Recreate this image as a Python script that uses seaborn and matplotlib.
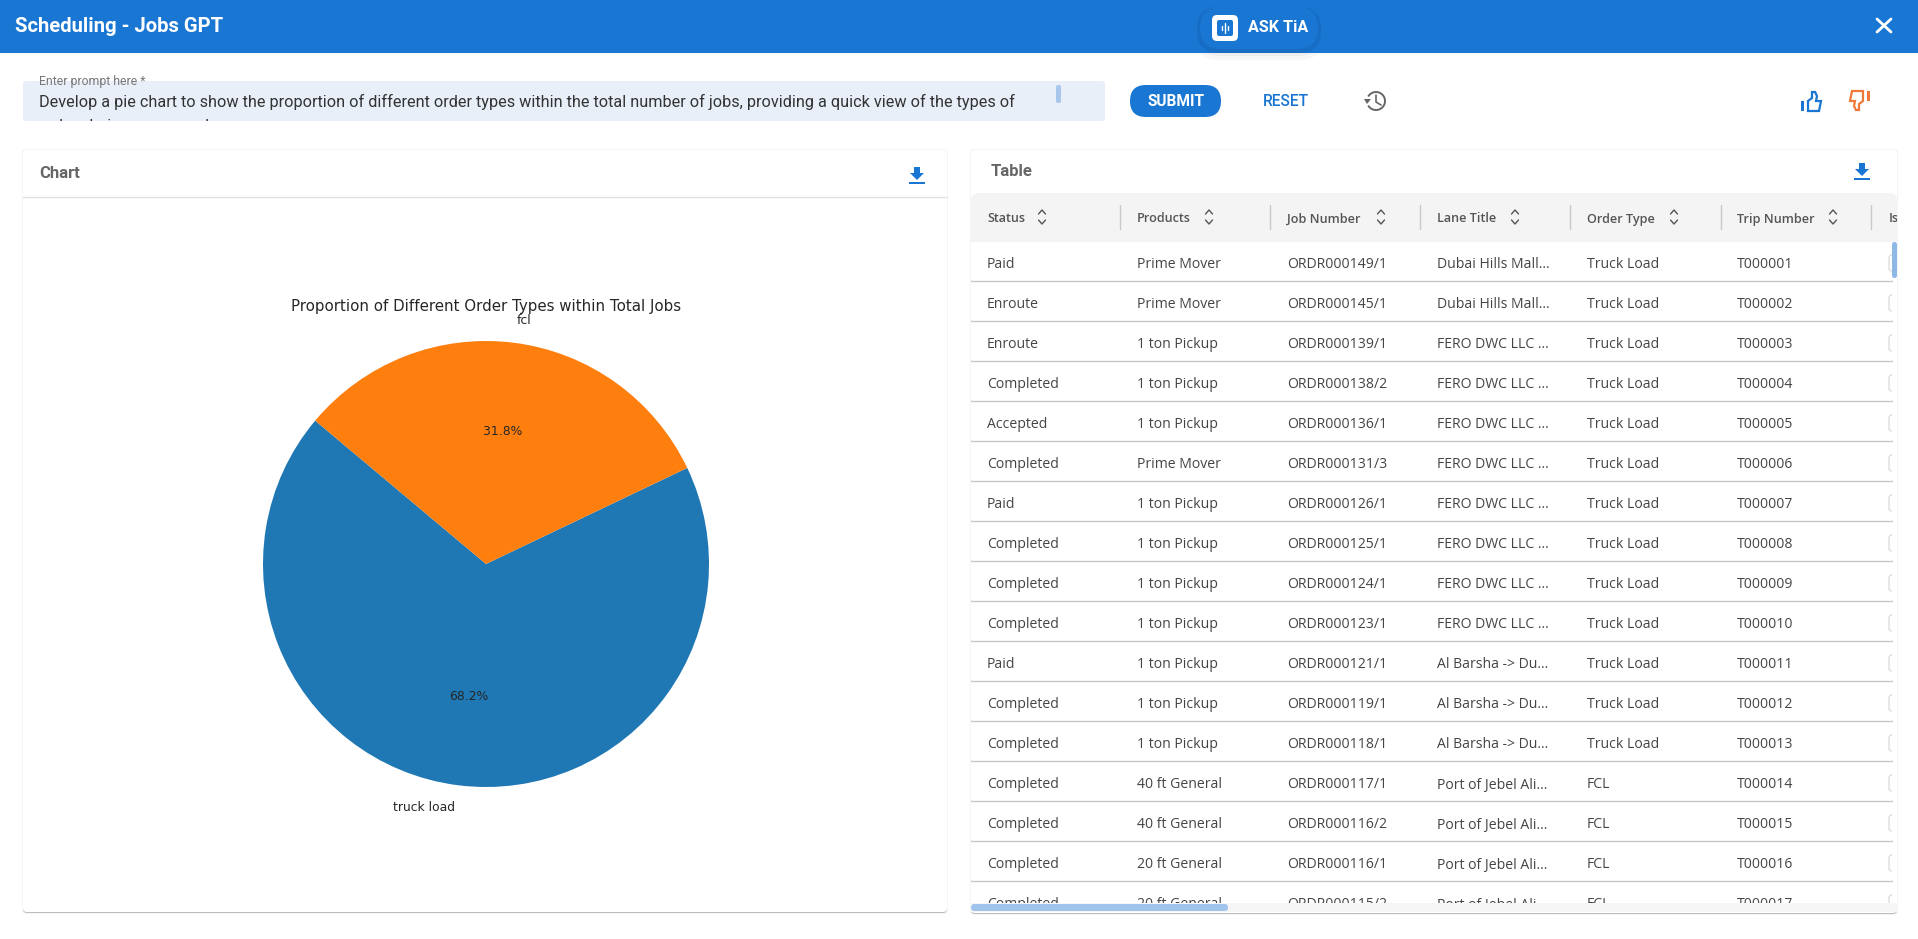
"""Scheduling - Jobs GPT screen: order type pie next to the jobs table."""
import matplotlib
matplotlib.use("Agg")
import matplotlib.pyplot as plt
import seaborn as sns
from matplotlib.patches import Arc, FancyBboxPatch, Polygon, Rectangle

# pie
order_types = ["truck load", "fcl"]
order_shares = [68.2, 31.8]

# table
columns = ["Status", "Products", "Job Number", "Lane Title", "Order Type", "Trip Number", "Is"]
status = ["Paid", "Enroute", "Enroute", "Completed", "Accepted", "Completed", "Paid", "Completed",
          "Completed", "Completed", "Paid", "Completed", "Completed", "Completed", "Completed",
          "Completed", "Completed"]
products = ["Prime Mover", "Prime Mover", "1 ton Pickup", "1 ton Pickup", "1 ton Pickup", "Prime Mover",
            "1 ton Pickup", "1 ton Pickup", "1 ton Pickup", "1 ton Pickup", "1 ton Pickup", "1 ton Pickup",
            "1 ton Pickup", "40 ft General", "40 ft General", "20 ft General", "20 ft General"]
job_numbers = ["ORDR000149/1", "ORDR000145/1", "ORDR000139/1", "ORDR000138/2", "ORDR000136/1",
               "ORDR000131/3", "ORDR000126/1", "ORDR000125/1", "ORDR000124/1", "ORDR000123/1",
               "ORDR000121/1", "ORDR000119/1", "ORDR000118/1", "ORDR000117/1", "ORDR000116/2",
               "ORDR000116/1", "ORDR000115/2"]
lanes = ["Dubai Hills Mall..."] * 2 + ["FERO DWC LLC ..."] * 8 + ["Al Barsha -> Du..."] * 3 + \
        ["Port of Jebel Ali..."] * 4
table_order_types = ["Truck Load"] * 13 + ["FCL"] * 4
trips = ["T000001", "T000002", "T000003", "T000004", "T000005", "T000006", "T000007", "T000008",
         "T000009", "T000010", "T000011", "T000012", "T000013", "T000014", "T000015", "T000016",
         "T000017"]

PROMPT = ("Develop a pie chart to show the proportion of different order types within the total "
          "number of jobs, providing a quick view of the types of")
PROMPT2 = "orders being processed."

BLUE = "#1976D2"
ORANGE = "#F0793A"
W, H = 1918, 939

sns.set_theme(style="white")
plt.rcParams["font.family"] = ["DejaVu Sans"]


def rbox(ax, x0, y0, x1, y1, r, **kw):
    p = FancyBboxPatch((x0 + r, y0 + r), x1 - x0 - 2 * r, y1 - y0 - 2 * r,
                       boxstyle=f"round,pad={r},rounding_size={r}", lw=kw.pop("lw", 0), **kw)
    ax.add_patch(p)
    return p


def card(ax, x0, y0, x1, y1):
    rbox(ax, x0 - 1, y0 - 1, x1 + 1, y1 + 2, 4, fc="#F5F5F5", zorder=1)
    rbox(ax, x0, y0 + 2, x1, y1 + 1, 4, fc="#BDBDBD", zorder=1.1)
    rbox(ax, x0, y0, x1, y1, 4, fc="white", zorder=1.2)


def download(ax, x, y):
    ax.add_patch(Rectangle((x - 3, y), 6, 7, fc=BLUE, lw=0, zorder=5))
    ax.add_patch(Polygon([(x - 7, y + 6), (x + 7, y + 6), (x, y + 13)], fc=BLUE, lw=0, zorder=5))
    ax.add_patch(Rectangle((x - 8, y + 15), 16, 2, fc=BLUE, lw=0, zorder=5))


def thumb(ax, x, y, color, flip=1):
    # y offsets flip for the thumbs-down
    pts = [(-3, 9), (-3, -1), (1, -4), (1, -10), (4, -10), (6, -6), (5, -1), (10, -1), (8, 9)]
    ax.add_patch(Polygon([(x + a * flip, y + b * flip) for a, b in pts], fc="none", ec=color, lw=1.6, zorder=5))
    ax.add_patch(Rectangle((x - 10 * flip, y + (-1 if flip > 0 else -9)), 3 * flip, 10, fc=color, lw=0, zorder=5))


def chevrons(ax, x, y):
    for d in (-1, 1):
        ax.plot([x - 3.5, x, x + 3.5], [y + d * 3, y + d * 7, y + d * 3], color="#555555", lw=1, zorder=5)


fig = plt.figure(figsize=(W / 100, H / 100), dpi=100, facecolor="white")
ui = fig.add_axes([0, 0, 1, 1])
ui.set_xlim(0, W)
ui.set_ylim(H, 0)
ui.axis("off")

# top bar
rbox(ui, 1196, 12, 1322, 60, 22, fc="#000000", alpha=0.03, zorder=0.5)
rbox(ui, 1198, 12, 1320, 56, 21, fc="#000000", alpha=0.04, zorder=0.6)
ui.add_patch(Rectangle((0, 0), W, 53, fc=BLUE, lw=0, zorder=1))
ui.text(15, 26, "Scheduling - Jobs GPT", color="white", family="Roboto", weight="bold",
        fontsize=14.6, va="center", zorder=5)
rbox(ui, 1197, 7, 1321, 53, 22, fc="#176CC4", zorder=2)
rbox(ui, 1200, 7, 1318, 49, 21, fc=BLUE, zorder=3)
rbox(ui, 1212, 15, 1238, 41, 5, fc="white", zorder=4)
rbox(ui, 1217, 20, 1233, 36, 2, fc=BLUE, zorder=4.5)
for dx, dy in [(-3, 2), (0, 5), (3, 2)]:
    ui.plot([1225 + dx] * 2, [28 - dy, 28 + dy], color="white", lw=1, zorder=5)
ui.text(1248, 27.5, "ASK TiA", color="white", family="Roboto", weight="bold", fontsize=11.6,
        va="center", zorder=5)
ui.plot([1877, 1891], [19, 32], color="white", lw=2, zorder=5)
ui.plot([1877, 1891], [32, 19], color="white", lw=2, zorder=5)

# prompt row
rbox(ui, 23, 81, 1105, 121, 3, fc="#E8EFF9", zorder=1)
clip_prompt = Rectangle((23, 74), 1082, 47, transform=ui.transData)
ui.text(39, 81, "Enter prompt here *", color="#777777", family="Roboto", fontsize=8.8, va="center", zorder=5)
ui.text(39, 101.5, PROMPT, color="#333333", family="Roboto", fontsize=11.72, va="center", zorder=5)
ui.text(39, 126.5, PROMPT2, color="#333333", family="Roboto", fontsize=11.72, va="center", zorder=5,
        clip_on=True).set_clip_path(clip_prompt)
rbox(ui, 1056, 85, 1061, 103, 2, fc="#A9C6EC", zorder=5)
rbox(ui, 1130, 85, 1221, 117, 16, fc=BLUE, zorder=2)
ui.text(1175.5, 101.5, "SUBMIT", color="white", family="Roboto", weight="bold", fontsize=11.2,
        ha="center", va="center", zorder=5)
ui.text(1286, 101.5, "RESET", color=BLUE, family="Roboto", weight="medium", fontsize=11.2,
        ha="center", va="center", zorder=5)
ui.add_patch(Arc((1376, 101), 18, 18, theta1=-150, theta2=150, color="#666666", lw=1.4, zorder=5))
ui.plot([1376, 1376, 1381], [95, 102, 105], color="#666666", lw=1.2, zorder=5)
ui.add_patch(Polygon([(1364, 99), (1371, 99), (1367, 104)], fc="#666666", lw=0, zorder=5))
thumb(ui, 1811, 102, BLUE)
thumb(ui, 1860, 100, ORANGE, flip=-1)

# chart card
card(ui, 23, 150, 947, 912)
ui.plot([23, 947], [197, 197], color="#E2E2E2", lw=1, zorder=2)
ui.text(39, 173, "Chart", color="#666666", family="Roboto", weight="bold", fontsize=12,
        va="center", zorder=5)
download(ui, 917, 167)

# table card
card(ui, 971, 150, 1897, 913)
ui.text(991, 171, "Table", color="#666666", family="Roboto", weight="bold", fontsize=12,
        va="center", zorder=5)
download(ui, 1862, 163)
rbox(ui, 971, 193, 1897, 260, 8, fc="#F4F4F4", zorder=2)
ui.add_patch(Rectangle((971, 242), 926, 20, fc="white", lw=0, zorder=2.1))

col_x = [987, 1137, 1287, 1437, 1587, 1737, 1889]
sep_x = [1120, 1270, 1420, 1570, 1721, 1871]
sort_x = [1042, 1209, 1381, 1515, 1674, 1833]
clip_table = Rectangle((971, 193), 926, 710, transform=ui.transData)
clip_cols = Rectangle((971, 193), 921, 710, transform=ui.transData)
for name, x in zip(columns, col_x):
    ui.text(x, 222.5, name, color="#555555", family="Open Sans", weight="semibold", fontsize=9.1,
            va="baseline", zorder=5, clip_on=True).set_clip_path(clip_table)
for x in sep_x:
    ui.plot([x, x], [205, 229], color="#C9C9C9", lw=1, zorder=3)
for x in sort_x:
    chevrons(ui, x, 217)

table_cols = [status, products, job_numbers, lanes, table_order_types, trips]
for i in range(len(trips)):
    y = 263 + 40 * i
    for x, values in zip(col_x, table_cols):
        ui.text(x, y + 5.5, values[i], color="#444444", family="Open Sans", fontsize=10.1, va="baseline",
                zorder=3, clip_on=True).set_clip_path(clip_table)
    box = rbox(ui, 1889, y - 8, 1905, y + 8, 3, fc="white", ec="#DDDDDD", lw=1, zorder=3)
    box.set_clip_path(clip_cols)
    if i < len(trips) - 1:
        ui.plot([971, 1892], [y + 18, y + 18], color="#C8C8C8", lw=1, zorder=3)

# table scrollbars
ui.add_patch(Rectangle((971, 903), 926, 9, fc="#F6F6F6", lw=0, zorder=4))
rbox(ui, 971, 904, 1228, 911, 3.5, fc="#A0C4EC", zorder=5)
rbox(ui, 1892, 242, 1897, 278, 2.5, fc="#8DB8E8", zorder=5)

# pie, radius 223 px around (486, 564), matplotlib pads the pie to +-1.25 radii
half = 1.25 * 223
ax = fig.add_axes([(486 - half) / W, 1 - (564 + half) / H, 2 * half / W, 2 * half / H])
ax.set_zorder(6)
ax.patch.set_alpha(0)
palette = sns.color_palette("tab10", 2)
wedges, labels, pcts = ax.pie(order_shares, labels=order_types, colors=palette, autopct="%1.1f%%",
                              startangle=140, textprops={"fontsize": 8.9}, wedgeprops={"linewidth": 0})
# title sits low enough to run into the fcl label, as in the source chart
title_y = (564 + half - 311) / (2 * half)
ax.set_title("Proportion of Different Order Types within Total Jobs", fontsize=10.8, y=title_y, pad=0)
ax.title.set_color("#262626")

fig.savefig("out.png", dpi=100)
